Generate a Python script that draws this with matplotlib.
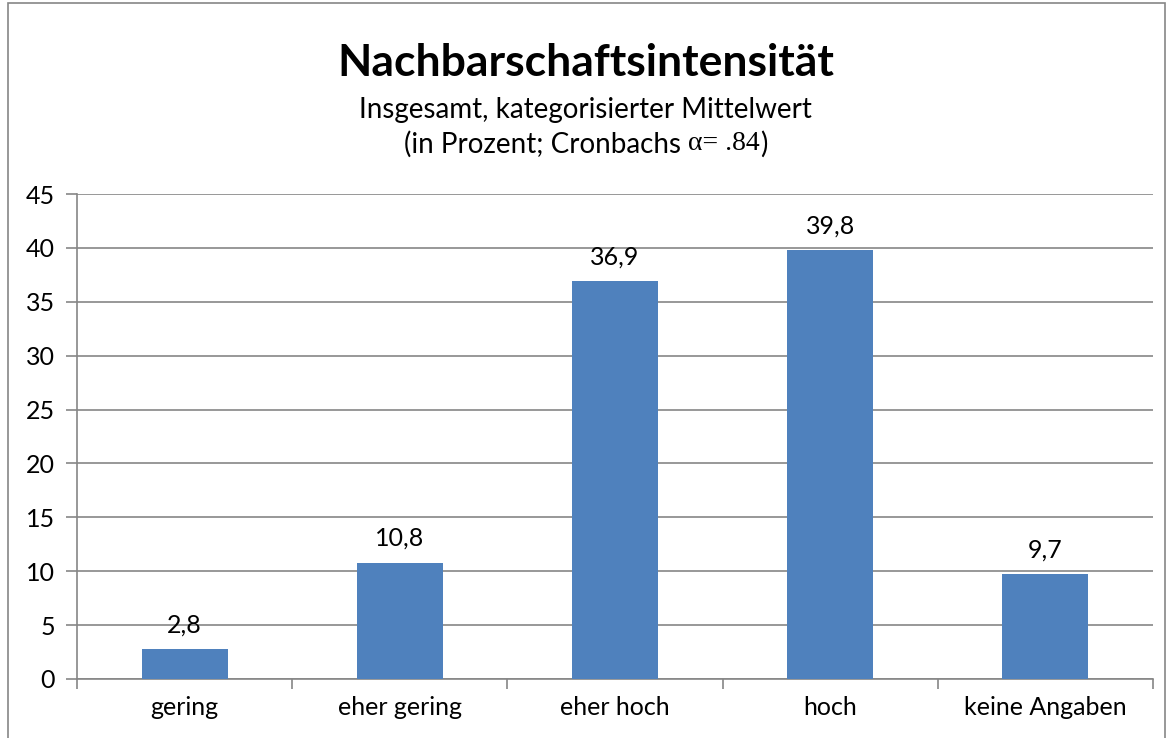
import matplotlib
matplotlib.use("Agg")
import matplotlib.pyplot as plt
from matplotlib.patches import Rectangle
import numpy as np

categories = ["gering", "eher gering", "eher hoch", "hoch", "keine Angaben"]
values = [2.8, 10.8, 36.9, 39.8, 9.7]
value_labels = ["2,8", "10,8", "36,9", "39,8", "9,7"]
yticks = list(range(0, 50, 5))

BLUE = "#4F81BD"
GRID = "#868686"
FONT = "Lato"
FS = 18

fig = plt.figure(figsize=(11.71, 7.38), dpi=100)
ax = fig.add_axes([77 / 1171, 1 - 679 / 738, (1153 - 77) / 1171, (679 - 194) / 738])

x = np.arange(len(categories))
ax.bar(x, values, width=0.4, color=BLUE, zorder=3)
for xi, v, lab in zip(x, values, value_labels):
    ax.annotate(lab, (xi, v), xytext=(0, 12), textcoords="offset points",
                ha="center", va="baseline", fontsize=FS, family=FONT)

ax.set_xlim(-0.5, len(categories) - 0.5)
ax.set_ylim(0, 45)
ax.set_yticks(yticks)
ax.set_yticklabels([str(t) for t in yticks], fontsize=FS, family=FONT)
ax.set_xticks(x)
ax.set_xticklabels(categories, fontsize=FS, family=FONT)
ax.tick_params(axis="x", length=0, pad=12)
ax.set_xticks(np.arange(-0.5, len(categories)), minor=True)
ax.tick_params(axis="x", which="minor", length=7, color=GRID, width=1.2)
ax.tick_params(axis="y", length=8, color=GRID, width=1.2, pad=8)
ax.yaxis.grid(True, color=GRID, linewidth=1.2, zorder=0)
for s in ["top", "right"]:
    ax.spines[s].set_visible(False)
for s in ["left", "bottom"]:
    ax.spines[s].set_color(GRID)
    ax.spines[s].set_linewidth(1.2)
ax.set_axisbelow(True)

# title block
fig.text(0.5, 1 - 63 / 738, "Nachbarschaftsintensität", ha="center", va="center",
         fontsize=32, fontweight="bold", family=FONT)
fig.text(0.5, 1 - 110 / 738, "Insgesamt, kategorisierter Mittelwert",
         ha="center", va="center", fontsize=20, family=FONT)

# third line: mixed fonts, laid out piece by piece and centred as a whole
parts = [("(in Prozent; Cronbachs ", FONT), ("\u03b1= .84", "Liberation Serif"), (")", FONT)]
renderer = fig.canvas.get_renderer()
texts = []
for s, fam in parts:
    t = fig.text(0, 1 - 144 / 738, s, ha="left", va="center", fontsize=20, family=fam)
    texts.append(t)
widths = [t.get_window_extent(renderer).width for t in texts]
xpos = (1171 - sum(widths)) / 2
for t, w in zip(texts, widths):
    t.set_x(xpos / 1171)
    xpos += w

# outer frame
fig.patches.append(Rectangle((8 / 1171, -0.01), (1165 - 8) / 1171, 1.01 - 3 / 738,
                             transform=fig.transFigure, fill=False,
                             edgecolor=GRID, linewidth=1.2))

fig.savefig("out.png", dpi=100)
